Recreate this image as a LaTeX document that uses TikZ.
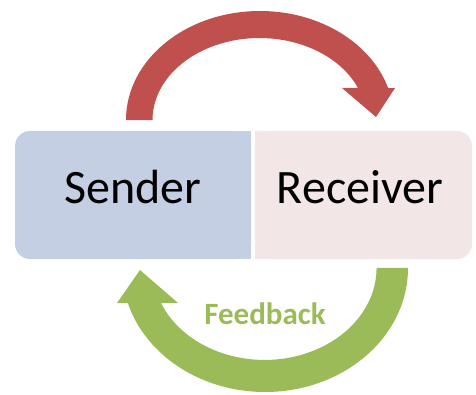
\documentclass[tikz,border=0pt]{standalone}
\usepackage{fontspec}
\setmainfont{Carlito}
\definecolor{arrowred}{RGB}{192,80,77}
\definecolor{arrowgreen}{RGB}{155,187,89}
\definecolor{sendercol}{RGB}{196,207,227}
\definecolor{receivercol}{RGB}{242,230,230}
\tikzset{
  boxlabel/.style={font=\fontsize{48}{48}\selectfont, anchor=base, inner sep=0pt},
  fbstyle/.style={font=\fontsize{31}{31}\selectfont\bfseries, text=arrowgreen, anchor=base, inner sep=0pt},
}
\begin{document}
\begin{tikzpicture}[x=1pt,y=1pt]
\useasboundingbox (0,0) rectangle (476,394);
% boxes
\node[fill=sendercol, rounded corners=15pt, minimum width=236pt, minimum height=128pt, inner sep=0pt] (sender) at (133,199) {};
\fill[sendercol] ([xshift=-30pt]sender.south east) rectangle (sender.north east);
\node[fill=receivercol, rounded corners=15pt, minimum width=217pt, minimum height=128pt, inner sep=0pt] (receiver) at (363.5,199) {};
\fill[receivercol] ([xshift=30pt]receiver.south west) rectangle (receiver.north west);
\node[boxlabel] (sendertxt) at (133,191) {Sender};
\node[boxlabel] (receivertxt) at (360,191) {Receiver};
% red arrow (top)
\fill[arrowred] (126,274) arc[start angle=180, end angle=17, x radius=134, y radius=109]
  -- (395,306) -- (376,277) -- (342,306) -- (358,306)
  arc[start angle=23, end angle=180, x radius=107, y radius=82] -- cycle;
% green arrow (bottom)
\fill[arrowgreen] (408,126) arc[start angle=0, end angle=-163.6, x radius=143, y radius=124]
  -- (117,91) -- (140,124) -- (178,91) -- (161,91)
  arc[start angle=-157.6, end angle=0, x radius=112, y radius=92] -- cycle;
\node[fbstyle] (feedback) at (265,70) {Feedback};
\end{tikzpicture}
\end{document}
